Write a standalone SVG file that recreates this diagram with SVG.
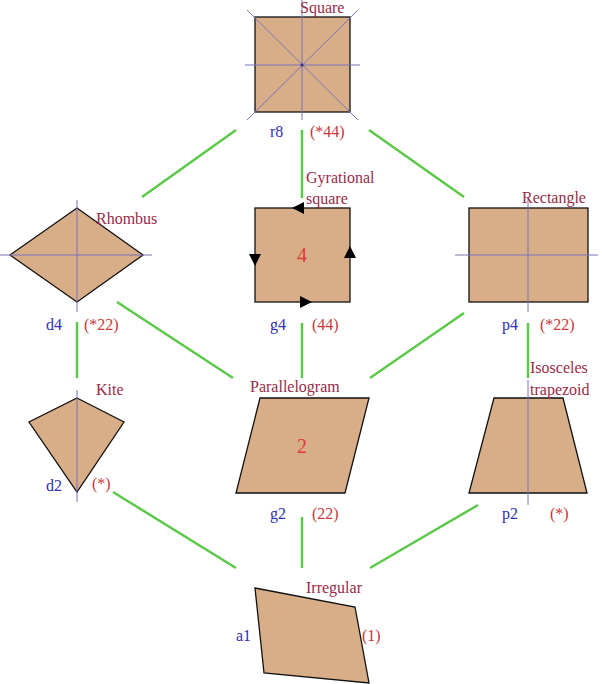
<svg xmlns="http://www.w3.org/2000/svg" width="602" height="684" viewBox="0 0 602 684">
<style>
.s{fill:#d8ae88;stroke:#111;stroke-width:1.3}
.ax{stroke:#7a72b8;stroke-width:1;fill:none}
.e{stroke:#5cc84a;stroke-width:2.5}
text{font-family:"Liberation Serif",serif;font-size:16px}
.n{fill:#9a2a48}.b{fill:#3030b0}.r{fill:#c83838}
.big{fill:#e03838;font-size:20px}
</style>
<defs><marker id="a" viewBox="0 0 10 10" refX="5" refY="5" markerWidth="12" markerHeight="12" markerUnits="userSpaceOnUse" orient="auto"><path d="M0,0L10,5L0,10z" fill="#000"/></marker></defs>
<rect width="602" height="684" fill="#fff"/>
<g id="edges">
<line class="e" x1="236" y1="130" x2="142" y2="197"/>
<line class="e" x1="302" y1="130" x2="302" y2="198"/>
<line class="e" x1="369" y1="130" x2="464" y2="197"/>
<line class="e" x1="77" y1="322" x2="77" y2="378"/>
<line class="e" x1="117" y1="302" x2="233" y2="378"/>
<line class="e" x1="302" y1="323" x2="302" y2="378"/>
<line class="e" x1="464" y1="313" x2="370" y2="378"/>
<line class="e" x1="528" y1="323" x2="528" y2="378"/>
<line class="e" x1="113" y1="492" x2="236" y2="568"/>
<line class="e" x1="302" y1="517" x2="302" y2="568"/>
<line class="e" x1="478" y1="505" x2="370" y2="568"/>
</g>
<g id="square">
<rect class="s" x="255" y="17" width="95" height="95"/>
<path class="ax" d="M302,0V120M245,65H360M247,10L358,120M358,10L247,120"/>
<circle cx="302" cy="65" r="1.5" fill="#30308a"/>
<text class="n" x="300" y="13">Square</text>
<text class="b" x="270" y="137">r8</text><text class="r" x="310" y="137">(*44)</text>
</g>
<g id="rhombus">
<path class="s" d="M10,255L77,208L143,255L77,302z"/>
<path class="ax" d="M77,200V312M0,255H152"/>
<text class="n" x="96" y="224">Rhombus</text>
<text class="b" x="46" y="330">d4</text><text class="r" x="84" y="330">(*22)</text>
</g>
<g id="gyro">
<rect class="s" x="255" y="208" width="95" height="94"/>
<path d="M306,208H298" fill="none" stroke="none" marker-end="url(#a)"/>
<path d="M255,252V260" fill="none" stroke="none" marker-end="url(#a)"/>
<path d="M298,302H306" fill="none" stroke="none" marker-end="url(#a)"/>
<path d="M350,260V252" fill="none" stroke="none" marker-end="url(#a)"/>
<text class="big" x="302" y="262" text-anchor="middle">4</text>
<text class="n" x="306" y="183">Gyrational</text><text class="n" x="306" y="204">square</text>
<text class="b" x="270" y="330">g4</text><text class="r" x="312" y="330">(44)</text>
</g>
<g id="rectangle">
<rect class="s" x="469" y="208" width="119" height="94"/>
<path class="ax" d="M528,198V312M455,255H598"/>
<text class="n" x="522" y="203">Rectangle</text>
<text class="b" x="502" y="330">p4</text><text class="r" x="540" y="330">(*22)</text>
</g>
<g id="kite">
<path class="s" d="M77,398L124,422L77,492L29,422z"/>
<path class="ax" d="M77,390V502"/>
<text class="n" x="96" y="395">Kite</text>
<text class="b" x="46" y="491">d2</text><text class="r" x="92" y="489">(*)</text>
</g>
<g id="parallelogram">
<path class="s" d="M260,398H369L345,493H236z"/>
<text class="big" x="302" y="453" text-anchor="middle">2</text>
<text class="n" x="250" y="392">Parallelogram</text>
<text class="b" x="270" y="519">g2</text><text class="r" x="312" y="519">(22)</text>
</g>
<g id="trapezoid">
<path class="s" d="M494,398H563L587,493H469z"/>
<path class="ax" d="M528,380V505"/>
<text class="n" x="530" y="373">Isosceles</text><text class="n" x="530" y="395">trapezoid</text>
<text class="b" x="502" y="519">p2</text><text class="r" x="550" y="519">(*)</text>
</g>
<g id="irregular">
<path class="s" d="M255,588L355,607L369,683L264,673z"/>
<text class="n" x="306" y="593">Irregular</text>
<text class="b" x="236" y="641">a1</text><text class="r" x="362" y="641">(1)</text>
</g>
</svg>
